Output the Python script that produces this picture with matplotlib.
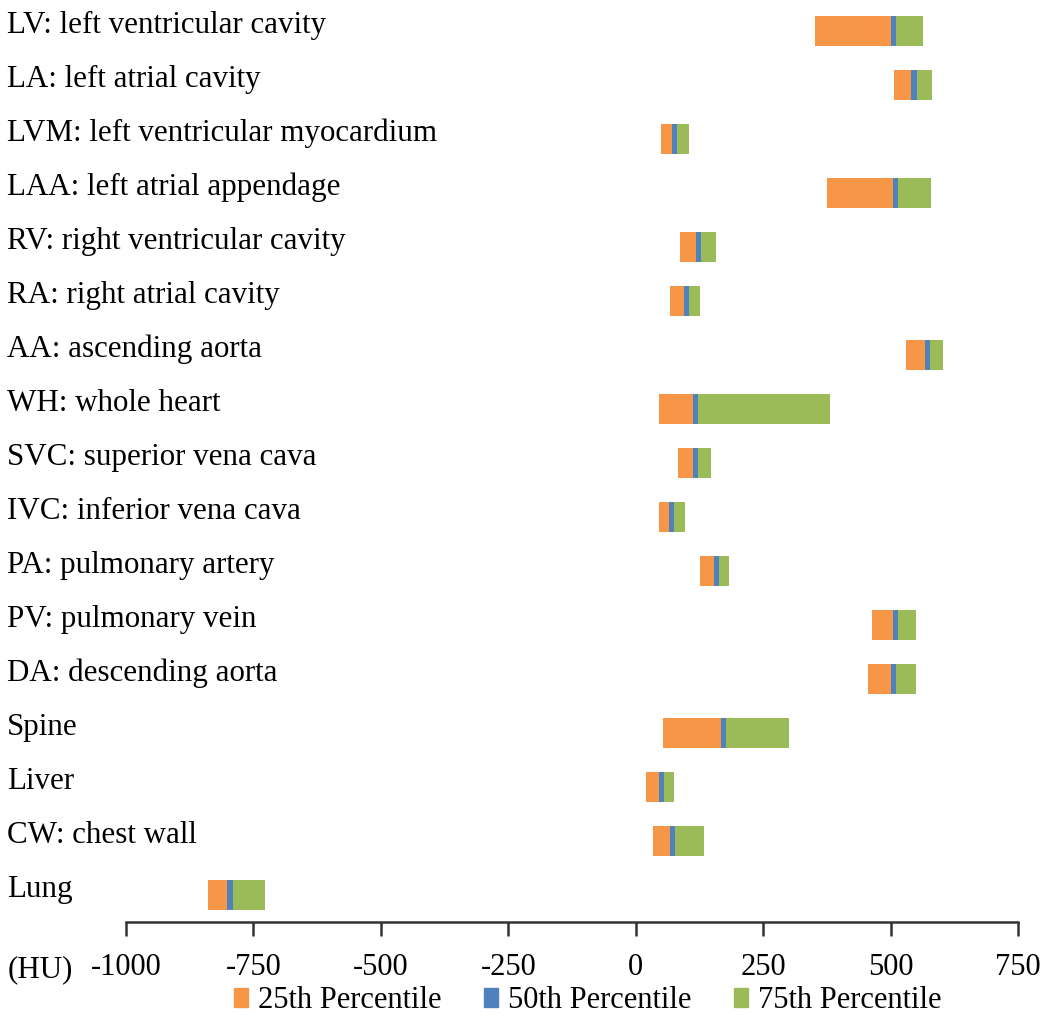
import numpy as np
import matplotlib
matplotlib.use("Agg")
import matplotlib.pyplot as plt
from matplotlib.transforms import blended_transform_factory
from matplotlib.patches import Patch

# ---- data (HU), top to bottom ----
structures = [
    "LV: left ventricular cavity", "LA: left atrial cavity",
    "LVM: left ventricular myocardium", "LAA: left atrial appendage",
    "RV: right ventricular cavity", "RA: right atrial cavity",
    "AA: ascending aorta", "WH: whole heart", "SVC: superior vena cava",
    "IVC: inferior vena cava", "PA: pulmonary artery", "PV: pulmonary vein",
    "DA: descending aorta", "Spine", "Liver", "CW: chest wall", "Lung",
]
p25 = [351, 506, 50, 375, 87, 67, 531, 45, 83, 45, 127, 464, 456, 54, 21, 34, -839]
p50 = [506, 546, 76, 509, 123, 99, 572, 117, 117, 70, 158, 509, 506, 172, 50, 72, -796]
p75 = [563, 581, 104, 579, 157, 127, 602, 382, 148, 96, 183, 549, 549, 300, 75, 134, -727]
xticks = [-1000, -750, -500, -250, 0, 250, 500, 750]

c_orange = "#F79646"
c_blue = "#4F81BD"
c_green = "#9BBB59"
mid_w = 10  # width of the median marker in HU

plt.rcParams["font.family"] = ["Liberation Serif", "DejaVu Serif"]

fig = plt.figure(figsize=(10.5, 10.19), dpi=100)
ax = fig.add_axes([0.12, 0.0952, 0.8495, 0.9009])

n = len(structures)
y = np.arange(n)[::-1]
a25 = np.array(p25, float)
a50 = np.array(p50, float)
a75 = np.array(p75, float)
h = 0.57

ax.barh(y, (a50 - mid_w / 2) - a25, left=a25, height=h, color=c_orange, lw=0)
ax.barh(y, mid_w, left=a50 - mid_w / 2, height=h, color=c_blue, lw=0)
ax.barh(y, a75 - (a50 + mid_w / 2), left=a50 + mid_w / 2, height=h, color=c_green, lw=0)

ax.set_xlim(-1000, 750)
ax.set_ylim(-0.5, n - 0.5)
ax.set_xticks(xticks)
ax.set_xticklabels([str(t) for t in xticks], fontsize=22)
ax.set_yticks([])
for s in ["top", "right", "left"]:
    ax.spines[s].set_visible(False)
ax.spines["bottom"].set_color("#333333")
ax.spines["bottom"].set_linewidth(1.8)
ax.tick_params(axis="x", direction="out", length=10, width=1.8, color="#333333", pad=12)

tr = blended_transform_factory(fig.transFigure, ax.transData)
for yi, name in zip(y, structures):
    ax.text(0.007, yi + 0.1, name, transform=tr, ha="left", va="center", fontsize=22.3)

fig.text(0.007, 1 - 970 / 1019, "(HU)", ha="left", va="center", fontsize=22.3)

handles = [Patch(color=c_orange, label="25th Percentile"),
           Patch(color=c_blue, label="50th Percentile"),
           Patch(color=c_green, label="75th Percentile")]
fig.legend(handles=handles, loc="center", bbox_to_anchor=(0.56, 1 - 1001 / 1019),
           ncol=3, frameon=False, fontsize=22, handlelength=0.45, handleheight=0.6,
           handletextpad=0.33, columnspacing=1.4, borderpad=0)

fig.savefig("out.png", dpi=100)
